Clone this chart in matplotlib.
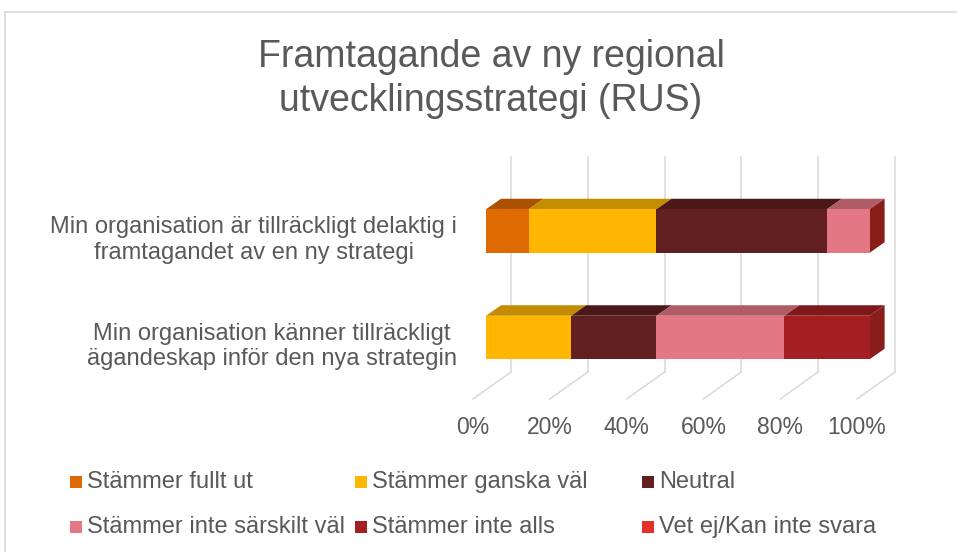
import matplotlib
matplotlib.use("Agg")
import matplotlib.pyplot as plt
from matplotlib.patches import Polygon, Rectangle
from matplotlib.lines import Line2D

# ---------------- data ----------------
title = "Framtagande av ny regional\nutvecklingsstrategi (RUS)"
categories = [
    "Min organisation är tillräckligt delaktig i\nframtagandet av en ny strategi",
    "Min organisation känner tillräckligt\nägandeskap inför den nya strategin",
]
series_names = [
    "Stämmer fullt ut",
    "Stämmer ganska väl",
    "Neutral",
    "Stämmer inte särskilt väl",
    "Stämmer inte alls",
    "Vet ej/Kan inte svara",
]
# percentages per series, one value per category (same order as categories)
fullt_ut = [11.1, 0.0]
ganska_val = [33.3, 22.2]
neutral = [44.4, 22.2]
inte_sarskilt = [11.1, 33.3]
inte_alls = [0.0, 22.2]
vet_ej = [0.0, 0.0]
series_values = [fullt_ut, ganska_val, neutral, inte_sarskilt, inte_alls, vet_ej]
tick_values = [0, 20, 40, 60, 80, 100]
tick_labels = ["0%", "20%", "40%", "60%", "80%", "100%"]

colors = ["#DD6A03", "#FFB600", "#611F20", "#E37784", "#A31F22", "#E5302A"]

# ---------------- layout constants (pixels) ----------------
W, H = 957, 552
X0PX = 486.0          # front face of bars, 0%
PX_PER_PCT = 3.84
Y0PX = 337.5          # center of lower bar (front face)
PX_PER_CAT = 106.5

def px_x(dpx):
    return dpx / PX_PER_PCT

def px_y(dpx):
    return dpx / PX_PER_CAT

TEXT = "#595959"
GRID = "#D9D9D9"
FONT = ["Liberation Sans", "DejaVu Sans"]
plt.rcParams["font.family"] = FONT

fig = plt.figure(figsize=(W / 100, H / 100), dpi=100)
fig.patch.set_facecolor("white")
ax = fig.add_axes([0, 0, 1, 1])
ax.set_xlim(-X0PX / PX_PER_PCT, (W - X0PX) / PX_PER_PCT)
ax.set_ylim((Y0PX - H) / PX_PER_CAT, Y0PX / PX_PER_CAT)
ax.axis("off")

# chart-area border (only top and left visible in reference)
fig.add_artist(Line2D([5 / W, 5 / W], [0, 1 - 12 / H], transform=fig.transFigure,
                      color="#D9D9D9", lw=1.2))
fig.add_artist(Line2D([5 / W, 1], [1 - 12 / H, 1 - 12 / H], transform=fig.transFigure,
                      color="#D9D9D9", lw=1.2))

# 3D offsets
WALL_DX, WALL_DY = px_x(25), px_y(17.8)      # back wall relative to bar front
FLOOR_DX, FLOOR_DY = px_x(-13), px_y(-9.2)   # floor front relative to bar front
BAR_DX, BAR_DY = px_x(15), px_y(10.5)        # bar depth
wall_bottom = (Y0PX - 372) / PX_PER_CAT
wall_top = (Y0PX - 157) / PX_PER_CAT

# gridlines: back wall + floor diagonals
for t in tick_values:
    xb = t + WALL_DX
    ax.plot([xb, xb], [wall_bottom, wall_top], color=GRID, lw=1.1, zorder=1)
    ax.plot([xb, t + FLOOR_DX], [wall_bottom, wall_bottom - (WALL_DY - FLOOR_DY)],
            color=GRID, lw=1.1, zorder=1)

# tick labels along floor front
ylab = (Y0PX - 427) / PX_PER_CAT
for t, lab in zip(tick_values, tick_labels):
    ax.text(t + FLOOR_DX, ylab, lab, ha="center", va="center", fontsize=16.5,
            color=TEXT)

def shade(c, f):
    r, g, b = matplotlib.colors.to_rgb(c)
    return (r * f, g * f, b * f)

bar_h = px_y(43.5)
n = len(categories)
for i, cat in enumerate(categories):
    yc = (n - 1 - i)
    y0, y1 = yc - bar_h / 2, yc + bar_h / 2
    left = 0.0
    segs = []
    for s, vals in enumerate(series_values):
        v = vals[i]
        segs.append((left, v, colors[s]))
        left += v
    # top faces
    for (l, v, c) in segs:
        if v <= 0:
            continue
        ax.add_patch(Polygon([(l, y1), (l + v, y1), (l + v + BAR_DX, y1 + BAR_DY),
                              (l + BAR_DX, y1 + BAR_DY)], closed=True,
                             facecolor=shade(c, 0.77), edgecolor="none", zorder=3))
    # front faces
    for (l, v, c) in segs:
        if v <= 0:
            continue
        ax.barh(yc, v, left=l, height=bar_h, color=c, edgecolor="none", zorder=4)
    # right side face (drawn by last series at end of bar)
    R = left
    ax.add_patch(Polygon([(R, y0), (R, y1), (R + BAR_DX, y1 + BAR_DY),
                          (R + BAR_DX, y0 + BAR_DY)], closed=True,
                         facecolor=shade(colors[-1], 0.6), edgecolor="none", zorder=3))
    # category label
    ax.text(px_x(457 - X0PX), yc - px_y(9), cat, ha="right", va="center",
            multialignment="center", fontsize=17, color=TEXT, linespacing=1.22)

# title
fig.text(491 / W, 1 - 79 / H, title, ha="center", va="center", fontsize=27,
         color=TEXT, linespacing=1.3)

# legend (manual, Excel-style fixed columns)
leg_cols = [76, 361, 648]
leg_rows = [482, 527]
for k, name in enumerate(series_names):
    r, cidx = divmod(k, 3)
    cx, cy = leg_cols[cidx], leg_rows[r]
    sq = 12
    fig.add_artist(Rectangle(((cx - sq / 2) / W, 1 - (cy + sq / 2) / H), sq / W, sq / H,
                             transform=fig.transFigure, facecolor=colors[k],
                             edgecolor="none"))
    fig.text((cx + 11) / W, 1 - cy / H, name, ha="left", va="center",
             fontsize=17, color=TEXT)

fig.savefig("out.png", dpi=100)
